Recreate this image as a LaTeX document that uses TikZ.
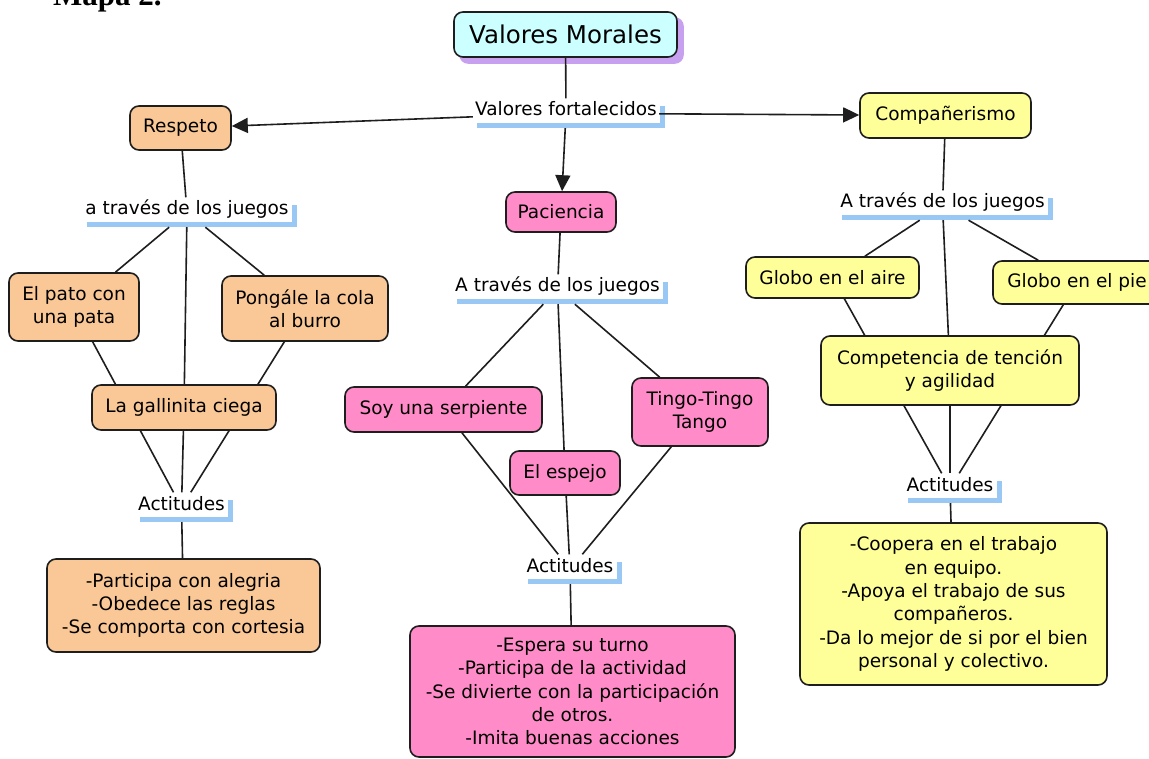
\documentclass[tikz,border=0pt]{standalone}
\usepackage{fontspec}
\setmainfont{DejaVu Sans}
\newfontfamily\mapafont{Liberation Serif}
\usetikzlibrary{arrows.meta,calc}
\pgfdeclarelayer{background}
\pgfsetlayers{background,main}
\definecolor{cyanfill}{RGB}{204,255,255}
\definecolor{shadowpurple}{RGB}{200,160,240}
\definecolor{orangefill}{RGB}{250,200,150}
\definecolor{pinkfill}{RGB}{255,140,200}
\definecolor{yellowfill}{RGB}{255,255,153}
\definecolor{barblue}{RGB}{153,200,245}
\definecolor{edgegray}{RGB}{30,30,30}
\begin{document}
\begin{tikzpicture}[x=1pt,y=-1pt,
  concept/.style={draw=edgegray, line width=1.6pt, rounded corners=9pt, align=center, inner sep=0pt, font=\fontsize{18.5}{23.3}\selectfont},
  wh/.style 2 args={minimum width=#1pt, minimum height=#2pt},
  lbl/.style={inner xsep=2pt, inner ysep=4pt, text height=13.5pt, text depth=8pt, anchor=base, font=\fontsize{18.5}{23.3}\selectfont},
  conn/.style={draw=edgegray, line width=1.6pt},
  arr/.style={conn, -{Triangle[length=16pt,width=15pt]}}]
\useasboundingbox (0,0) rectangle (1149,759);

\node[anchor=base west, inner sep=0pt, font=\mapafont\bfseries\fontsize{31}{31}\selectfont] (mapa) at (53,6) {Mapa 2.};

% concepts
\node[concept, fill=cyanfill, wh={223}{45}, font=\fontsize{24.5}{28}\selectfont] (vm) at (565.5,34.5) {Valores Morales};
\node[concept, fill=orangefill, wh={101}{44}] (respeto) at (180.5,128) {Respeto};
\node[concept, fill=yellowfill, wh={171}{45}] (comp) at (945.5,115.5) {Compañerismo};
\node[concept, fill=pinkfill, wh={110}{40}] (pac) at (561,212) {Paciencia};
\node[concept, fill=orangefill, wh={130}{68}] (pato) at (74,307) {El pato con\\una pata};
\node[concept, fill=orangefill, wh={166}{65}] (pongale) at (305,308.5) {Pongále la cola\\al burro};
\node[concept, fill=orangefill, wh={184}{45}] (gall) at (184,407.5) {La gallinita ciega};
\node[concept, fill=orangefill, wh={273}{93}] (part) at (183.5,605.5) {-Participa con alegria\\-Obedece las reglas\\-Se comporta con cortesia};
\node[concept, fill=pinkfill, wh={197}{45}] (soy) at (443.5,409.5) {Soy una serpiente};
\node[concept, fill=pinkfill, wh={136}{68}] (tingo) at (700,412) {Tingo-Tingo\\Tango};
\node[concept, fill=pinkfill, wh={110}{44}] (espejo) at (565,473) {El espejo};
\node[concept, fill=pinkfill, wh={325}{131}] (espera) at (572.5,691.5) {-Espera su turno\\-Participa de la actividad\\-Se divierte con la participación\\de otros.\\-Imita buenas acciones};
\node[concept, fill=yellowfill, wh={173}{41}] (aire) at (832.5,277.5) {Globo en el aire};
\node[concept, fill=yellowfill, wh={168}{43}] (pie) at (1077,282.5) {Globo en el pie};
\node[concept, fill=yellowfill, wh={258}{69}] (compet) at (950,370.5) {Competencia de tención\\y agilidad};
\node[concept, fill=yellowfill, wh={307}{162}] (coop) at (953.5,604) {-Coopera en el trabajo\\en equipo.\\-Apoya el trabajo de sus\\compañeros.\\-Da lo mejor de si por el bien\\personal y colectivo.};

% linking phrases
\node[lbl] (lf) at (566,116) {Valores fortalecidos};
\node[lbl] (l1) at (187,215) {a través de los juegos};
\node[lbl] (l2) at (557.5,292) {A través de los juegos};
\node[lbl] (l3) at (942.5,208) {A través de los juegos};
\node[lbl] (a1) at (181.5,510) {Actitudes};
\node[lbl] (a2) at (570,572) {Actitudes};
\node[lbl] (a3) at (950,491) {Actitudes};

\begin{pgfonlayer}{background}
\fill[white] (0,0) rectangle (1149,759);
\fill[shadowpurple, rounded corners=9pt] ($(vm.north west)+(6,6)$) rectangle ($(vm.south east)+(6,6)$);
\foreach \n in {lf,l1,l2,l3,a1,a2,a3}{
  \fill[barblue] ($(\n.south west)+(4,-5)$) rectangle ($(\n.south east)+(6,0)$);
  \fill[barblue] ($(\n.south east)+(1,0)$) rectangle ($(\n.east)+(6,-7)$);
}
\draw[conn] (vm) -- (lf);
\draw[arr] (lf) -- (respeto);
\draw[arr] (lf) -- (comp);
\draw[arr] (lf) -- (pac);
\draw[conn] (respeto) -- (l1);
\draw[conn] (l1) -- (pato);
\draw[conn] (l1) -- (pongale);
\draw[conn] (l1) -- (gall);
\draw[conn] (pato) -- (a1);
\draw[conn] (pongale) -- (a1);
\draw[conn] (gall) -- (a1);
\draw[conn] (a1) -- (part);
\draw[conn] (pac) -- (l2);
\draw[conn] (l2) -- (soy);
\draw[conn] (l2) -- (espejo);
\draw[conn] (l2) -- (tingo);
\draw[conn] (soy) -- (a2);
\draw[conn] (espejo) -- (a2);
\draw[conn] (tingo) -- (a2);
\draw[conn] (a2) -- (espera);
\draw[conn] (comp) -- (l3);
\draw[conn] (l3) -- (aire);
\draw[conn] (l3) -- (pie);
\draw[conn] (l3) -- (compet);
\draw[conn] (aire) -- (a3);
\draw[conn] (pie) -- (a3);
\draw[conn] (compet) -- (a3);
\draw[conn] (a3) -- (coop);
\end{pgfonlayer}
\end{tikzpicture}
\end{document}
